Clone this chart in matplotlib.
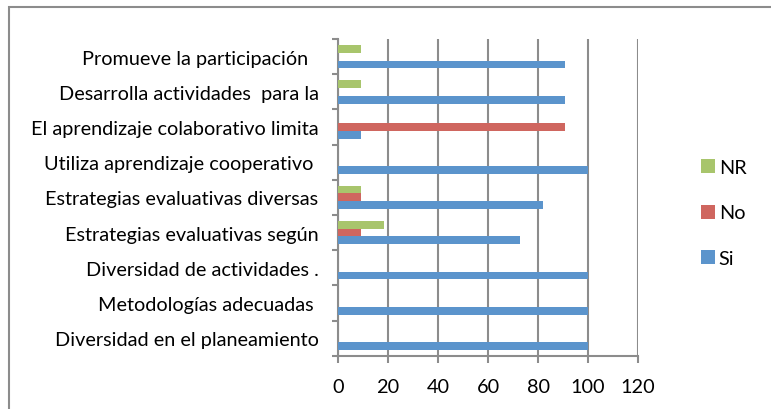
import matplotlib.pyplot as plt
import matplotlib.patches as mpatches
import numpy as np

plt.rcParams['font.family'] = ['Lato', 'DejaVu Sans']

# categories listed bottom to top
categories = [
    "Diversidad en el planeamiento",
    "Metodologías adecuadas ",
    "Diversidad de actividades .",
    "Estrategias evaluativas según",
    "Estrategias evaluativas diversas",
    "Utiliza aprendizaje cooperativo ",
    "El aprendizaje colaborativo limita",
    "Desarrolla actividades  para la",
    "Promueve la participación  ",
]
si = [100, 100, 100, 72.7, 81.8, 100, 9.1, 90.9, 90.9]
no = [0, 0, 0, 9.1, 9.1, 0, 90.9, 0, 0]
nr = [0, 0, 0, 18.2, 9.1, 0, 0, 9.1, 9.1]
x_ticks = [0, 20, 40, 60, 80, 100, 120]

c_si = '#5B94CC'
c_no = '#CF665F'
c_nr = '#A8C56C'
grid_c = '#8C8C8C'
fs = 14.3

fig = plt.figure(figsize=(7.71, 4.10), dpi=100)
ax = fig.add_axes([338 / 771, 1 - 356.7 / 410, 300 / 771, 316.7 / 410])

# outer chart border
fig.patches.append(mpatches.Rectangle((9 / 771, -0.1), 1.1, 1 - 8 / 410 + 0.1,
                                      transform=fig.transFigure, fill=False,
                                      edgecolor='#8C8C8C', linewidth=1.5))

y = np.arange(len(categories))
h = 0.222
ax.barh(y - h, si, height=h, color=c_si, label='Si', zorder=3)
ax.barh(y, no, height=h, color=c_no, label='No', zorder=3)
ax.barh(y + h, nr, height=h, color=c_nr, label='NR', zorder=3)

ax.set_xlim(0, 120)
ax.set_ylim(-0.5, len(categories) - 0.5)
ax.set_xticks(x_ticks)
ax.set_xticklabels([str(t) for t in x_ticks], fontsize=fs)
ax.set_yticks(y)
ax.set_yticklabels(categories, fontsize=fs)
ax.set_yticks(np.arange(len(categories) + 1) - 0.5, minor=True)
ax.tick_params(axis='y', which='major', length=0, pad=14)
ax.tick_params(axis='y', which='minor', length=4, width=1.5, color=grid_c)
ax.tick_params(axis='x', length=5, width=1.5, color=grid_c, pad=11)

ax.grid(axis='x', color=grid_c, linewidth=1.5, zorder=0)
for s in ['top', 'right']:
    ax.spines[s].set_visible(False)
for s in ['left', 'bottom']:
    ax.spines[s].set_color(grid_c)
    ax.spines[s].set_linewidth(1.5)

handles, labels = ax.get_legend_handles_labels()
fig.legend(handles[::-1], labels[::-1], loc='center left',
           bbox_to_anchor=(683 / 771, 1 - 214 / 410), frameon=False,
           fontsize=fs, handlelength=0.7, handleheight=0.7,
           labelspacing=1.42, handletextpad=0.2)

fig.savefig('out.png', dpi=100)
